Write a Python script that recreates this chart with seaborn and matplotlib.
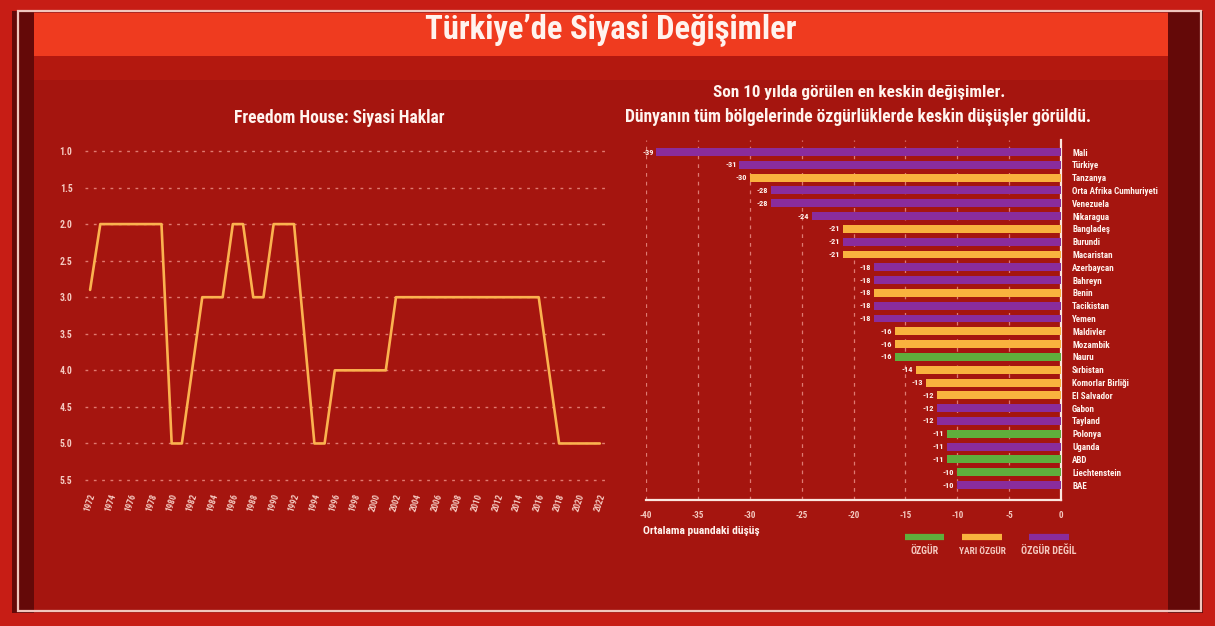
import matplotlib
matplotlib.use("Agg")
import numpy as np
import pandas as pd
import matplotlib.pyplot as plt
from matplotlib import font_manager
from matplotlib.patches import Rectangle
from matplotlib.lines import Line2D
import seaborn as sns

# Freedom House political-rights score for Türkiye (1 = most free, 7 = least free)
years = list(range(1972, 2023))
political_rights = [
    2.9, 2, 2, 2, 2, 2, 2, 2,
    5, 5, np.nan,
    3, 3, 3, 2, 2, 3, 3, 2, 2, 2, np.nan,
    5, 5, 4, 4, 4, 4, 4, 4,
    3, 3, 3, 3, 3, 3, 3, 3, 3, 3, 3, 3, 3, 3, 3, np.nan,
    5, 5, 5, 5, 5,
]
year_ticks = list(range(1972, 2023, 2))
rights_ticks = [1.0, 1.5, 2.0, 2.5, 3.0, 3.5, 4.0, 4.5, 5.0, 5.5]

# Largest ten-year declines in aggregate score
countries = [
    "Mali", "Türkiye", "Tanzanya", "Orta Afrika Cumhuriyeti", "Venezuela",
    "Nikaragua", "Bangladeş", "Burundi", "Macaristan", "Azerbaycan",
    "Bahreyn", "Benin", "Tacikistan", "Yemen", "Maldivler", "Mozambik",
    "Nauru", "Sırbistan", "Komorlar Birliği", "El Salvador", "Gabon",
    "Tayland", "Polonya", "Uganda", "ABD", "Liechtenstein", "BAE",
]
declines = [-39, -31, -30, -28, -28, -24, -21, -21, -21, -18, -18, -18, -18,
            -18, -16, -16, -16, -14, -13, -12, -12, -12, -11, -11, -11, -10, -10]
statuses = [
    "ÖZGÜR DEĞİL", "ÖZGÜR DEĞİL", "YARI ÖZGÜR", "ÖZGÜR DEĞİL", "ÖZGÜR DEĞİL",
    "ÖZGÜR DEĞİL", "YARI ÖZGÜR", "ÖZGÜR DEĞİL", "YARI ÖZGÜR", "ÖZGÜR DEĞİL",
    "ÖZGÜR DEĞİL", "YARI ÖZGÜR", "ÖZGÜR DEĞİL", "ÖZGÜR DEĞİL", "YARI ÖZGÜR",
    "YARI ÖZGÜR", "ÖZGÜR", "YARI ÖZGÜR", "YARI ÖZGÜR", "YARI ÖZGÜR",
    "ÖZGÜR DEĞİL", "ÖZGÜR DEĞİL", "ÖZGÜR", "ÖZGÜR DEĞİL", "ÖZGÜR",
    "ÖZGÜR", "ÖZGÜR DEĞİL",
]
status_levels = ["ÖZGÜR", "YARI ÖZGÜR", "ÖZGÜR DEĞİL"]
decline_ticks = [-40, -35, -30, -25, -20, -15, -10, -5, 0]

status_colors = {"ÖZGÜR": "#5fae3c", "YARI ÖZGÜR": "#f9b23e", "ÖZGÜR DEĞİL": "#8a2c9c"}
LINE_COLOR = "#fbb24f"
TEXT = "#fff3ee"
TICK_TEXT = "#f4c9c0"

sns.set_theme(style="white")

# prefer a narrow / condensed face for the broadcast look
font_entries = font_manager.fontManager.ttflist
names = {f.name for f in font_entries}
stretch = "normal"
main_font = "DejaVu Sans"
for cand in ("Liberation Sans Narrow", "Roboto Condensed", "Open Sans Condensed"):
    if cand in names:
        main_font = cand
        break
else:
    if any(f.name == "DejaVu Sans" and str(f.stretch) in ("condensed", "semi-condensed")
           for f in font_entries):
        stretch = "condensed"
plt.rcParams["font.family"] = [main_font, "DejaVu Sans"]
plt.rcParams["font.weight"] = "bold"
plt.rcParams["font.stretch"] = stretch

W, H = 1215, 626
fig = plt.figure(figsize=(W / 100, H / 100), dpi=100, facecolor="#c71d15")
renderer = fig.canvas.get_renderer()


def fx(x):
    return x / W


def fy(y):
    return 1 - y / H


def box(x0, y0, x1, y1, **kw):
    fig.add_artist(Rectangle((fx(x0), fy(y1)), (x1 - x0) / W, (y1 - y0) / H,
                             transform=fig.transFigure, **kw))


def fit_width(txt, width_px, max_size):
    """Shrink a text object's font size so it spans about width_px pixels."""
    txt.set_fontsize(max_size)
    w = txt.get_window_extent(renderer).width
    if w > width_px:
        txt.set_fontsize(max_size * width_px / w)
    return txt.get_fontsize()


# studio-style backdrop
box(12, 11, 1203, 613, facecolor="#a5150f", edgecolor="none", zorder=0)
box(12, 11, 34, 613, facecolor="#640908", edgecolor="none", zorder=0)
box(1168, 11, 1203, 613, facecolor="#640908", edgecolor="none", zorder=0)
box(34, 13, 1168, 56, facecolor="#ef3b1f", edgecolor="none", zorder=0)
box(34, 56, 1168, 80, facecolor="#b3180f", edgecolor="none", zorder=0)
box(18, 11, 1201, 611, facecolor="none", edgecolor="#f2c6bd", lw=1.6, zorder=1)

title = fig.text(fx(611), fy(30), "Türkiye’de Siyasi Değişimler", ha="center", va="center",
                 color=TEXT, fontweight="bold")
fit_width(title, 373, 28)

# ---- left: political rights line ----
rights_df = pd.DataFrame({"year": years, "rights": political_rights}).dropna()
axL = fig.add_axes([fx(85), fy(491), 520 / W, 351 / H])
axL.set_facecolor("none")
sns.lineplot(data=rights_df, x="year", y="rights", ax=axL, color=LINE_COLOR,
             linewidth=1.9, zorder=3)
axL.set_xlim(1971.5, 2022.5)
axL.set_ylim(5.65, 0.85)
axL.set_yticks(rights_ticks)
axL.set_yticklabels([f"{v:.1f}" for v in rights_ticks])
axL.set_xticks(year_ticks)
axL.set_xticklabels([str(y) for y in year_ticks], rotation=72, fontsize=6.5)
axL.yaxis.grid(True, linestyle=(0, (2, 4)), color="#e07a70", linewidth=1)
axL.xaxis.grid(False)
axL.tick_params(axis="y", length=0, pad=9, labelsize=7, labelcolor=TICK_TEXT)
axL.tick_params(axis="x", length=0, pad=1, labelcolor=TICK_TEXT)
axL.set_xlabel("")
axL.set_ylabel("")
for s in axL.spines.values():
    s.set_visible(False)
left_title = fig.text(fx(339), fy(118), "Freedom House: Siyasi Haklar", ha="center",
                      va="center", color=TEXT, fontweight="bold")
fit_width(left_title, 211, 16)

# ---- right: horizontal bars ----
decline_df = pd.DataFrame({"country": countries, "decline": declines, "status": statuses})
axR = fig.add_axes([fx(646), fy(500), 415 / W, 360 / H])
axR.set_facecolor("none")
sns.barplot(data=decline_df, y="country", x="decline", hue="status",
            hue_order=status_levels, palette=status_colors, dodge=False,
            width=0.62, orient="h", legend=False, saturation=1,
            linewidth=0, edgecolor="none", ax=axR, zorder=3)
axR.set_xlim(-40, 0)
axR.set_ylim(27.17, -0.94)
axR.set_xticks(decline_ticks)
axR.set_xticklabels([str(v) for v in decline_ticks])
axR.yaxis.tick_right()
axR.tick_params(axis="y", length=0, pad=8, labelcolor=TEXT)
axR.tick_params(axis="x", length=0, pad=8, labelsize=6.5, labelcolor=TICK_TEXT)
axR.xaxis.grid(True, linestyle=(0, (3, 4)), color="#dd7a72", linewidth=0.9)
axR.yaxis.grid(False)
axR.set_xlabel("")
axR.set_ylabel("")
for name, s in axR.spines.items():
    if name in ("right", "bottom"):
        s.set_visible(True)
        s.set_color("#fbe6df")
        s.set_linewidth(1.6)
    else:
        s.set_visible(False)

# country names: widest one spans about 90 px
probe = fig.text(0, 0, "Orta Afrika Cumhuriyeti", fontweight="bold")
country_size = fit_width(probe, 90, 6.5)
probe.remove()
axR.tick_params(axis="y", labelsize=country_size)

for cont in axR.containers:
    labels = [f"{b.get_width():.0f}" if np.isfinite(b.get_width()) else "" for b in cont]
    axR.bar_label(cont, labels=labels, padding=2, fontsize=6, color=TEXT)

sub1 = fig.text(fx(859), fy(92), "Son 10 yılda görülen en keskin değişimler.", ha="center",
                va="center", color=TEXT, fontweight="bold")
fit_width(sub1, 292, 16)
sub2 = fig.text(fx(858), fy(117), "Dünyanın tüm bölgelerinde özgürlüklerde keskin düşüşler görüldü.",
                ha="center", va="center", color=TEXT, fontweight="bold")
fit_width(sub2, 467, 16)
xlab = fig.text(fx(643), fy(531), "Ortalama puandaki düşüş", ha="left", va="center",
                color=TEXT, fontweight="bold")
fit_width(xlab, 117, 9)

# legend: colour swatch above each label
legend_spots = {"ÖZGÜR": (905, 944), "YARI ÖZGÜR": (962, 1002), "ÖZGÜR DEĞİL": (1029, 1069)}
legend_widths = {"ÖZGÜR": 28, "YARI ÖZGÜR": 47, "ÖZGÜR DEĞİL": 55}
for level in status_levels:
    x0, x1 = legend_spots[level]
    fig.add_artist(Line2D([fx(x0), fx(x1)], [fy(537), fy(537)], transform=fig.transFigure,
                          color=status_colors[level], linewidth=4.5, solid_capstyle="butt"))
    t = fig.text(fx((x0 + x1) / 2), fy(551), level, ha="center", va="center",
                 color=TICK_TEXT, fontweight="bold")
    fit_width(t, legend_widths[level], 9)

fig.savefig("out.png", dpi=100, facecolor=fig.get_facecolor())
